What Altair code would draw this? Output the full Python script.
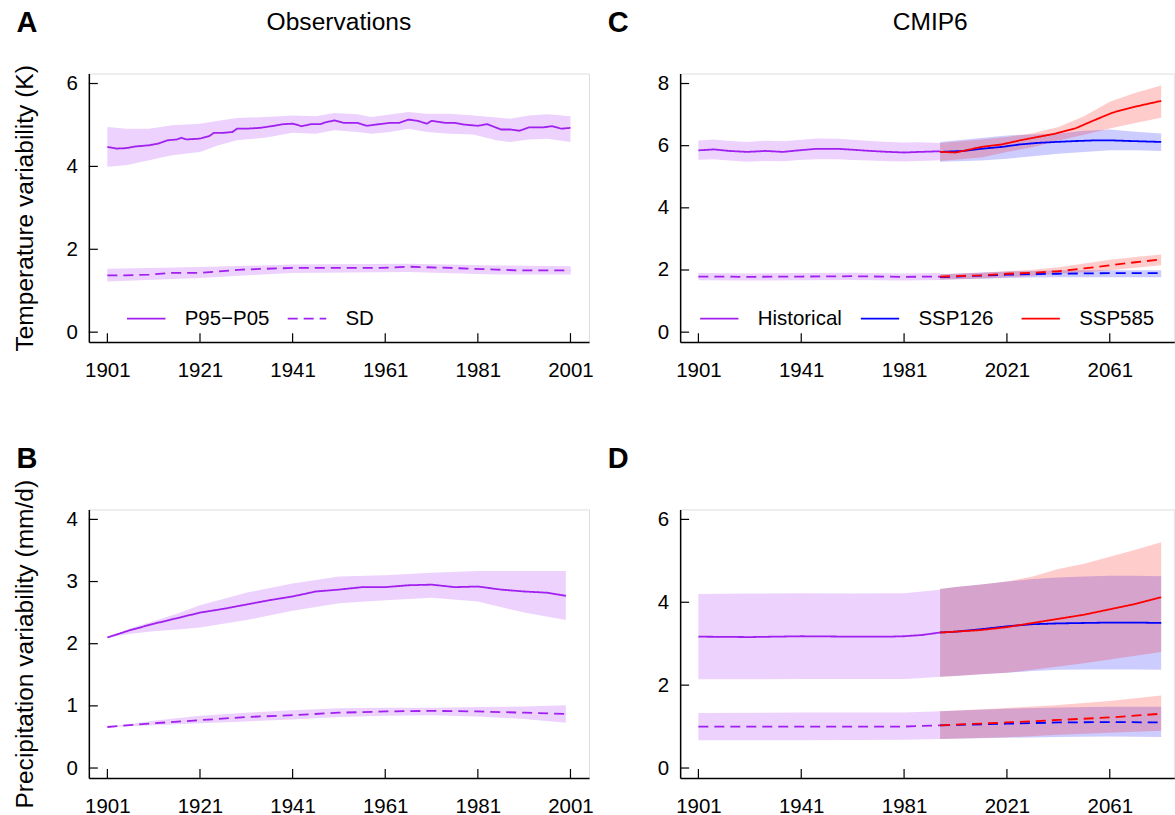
import altair as alt
import pandas as pd

PURPLE = "#A020F0"
BLUE = "#0000FF"
RED = "#FF0000"
FONT = "Liberation Sans"
P_LABEL = "P95\u2212P05"
SD_LABEL = "SD"

# ---------------- Panel A: observed temperature variability (K)
a_p_years = [1901, 1903, 1905, 1907, 1910, 1912, 1914, 1916, 1917, 1918, 1921, 1923, 1924, 1926,
             1928, 1929, 1931, 1934, 1937, 1939, 1941, 1943, 1945, 1947, 1948, 1950, 1952, 1955,
             1957, 1959, 1962, 1964, 1966, 1968, 1970, 1971, 1974, 1976, 1978, 1981, 1983, 1986,
             1988, 1990, 1992, 1995, 1997, 1999, 2001]
a_p = [4.47, 4.43, 4.44, 4.48, 4.51, 4.55, 4.63, 4.65, 4.69, 4.65, 4.67, 4.73, 4.81, 4.81,
       4.83, 4.91, 4.91, 4.93, 4.98, 5.02, 5.03, 4.97, 5.02, 5.02, 5.06, 5.11, 5.05, 5.05,
       4.98, 5.01, 5.05, 5.05, 5.13, 5.10, 5.03, 5.10, 5.05, 5.05, 5.01, 4.98, 5.02, 4.89,
       4.89, 4.86, 4.94, 4.94, 4.97, 4.91, 4.93]
a_p_band_years = [1901, 1905, 1910, 1915, 1921, 1925, 1929, 1935, 1941, 1946, 1950, 1955,
                  1958, 1962, 1966, 1970, 1975, 1980, 1985, 1988, 1992, 1996, 2001]
a_p_hi = [4.95, 4.91, 4.91, 4.99, 5.03, 5.10, 5.17, 5.19, 5.23, 5.21, 5.29, 5.26,
          5.19, 5.25, 5.31, 5.27, 5.27, 5.23, 5.18, 5.15, 5.23, 5.26, 5.21]
a_p_lo = [3.99, 4.03, 4.15, 4.27, 4.35, 4.51, 4.63, 4.69, 4.81, 4.79, 4.87, 4.83,
          4.79, 4.83, 4.91, 4.83, 4.79, 4.77, 4.63, 4.59, 4.65, 4.67, 4.59]
a_sd_years = [1901, 1905, 1910, 1915, 1921, 1930, 1941, 1950, 1960, 1966, 1975, 1985, 1990, 2001]
a_sd = [1.37, 1.37, 1.39, 1.43, 1.43, 1.51, 1.55, 1.55, 1.55, 1.58, 1.55, 1.51, 1.49, 1.49]
a_sd_band_years = [1901, 1921, 1941, 1966, 1985, 2001]
a_sd_hi = [1.53, 1.57, 1.63, 1.65, 1.61, 1.59]
a_sd_lo = [1.22, 1.31, 1.43, 1.45, 1.39, 1.39]

# ---------------- Panel B: observed precipitation variability (mm/d)
b_p_years = [1901, 1906, 1911, 1916, 1921, 1926, 1931, 1936, 1941, 1946, 1951, 1956, 1961,
             1966, 1971, 1976, 1981, 1986, 1991, 1996, 2000]
b_p = [2.10, 2.22, 2.32, 2.41, 2.50, 2.56, 2.63, 2.70, 2.76, 2.84, 2.87, 2.91, 2.91,
       2.94, 2.95, 2.91, 2.92, 2.87, 2.84, 2.82, 2.77]
b_p_band_years = [1901, 1906, 1911, 1916, 1921, 1931, 1941, 1951, 1961, 1971, 1981, 1991, 2000]
b_p_hi = [2.10, 2.25, 2.36, 2.48, 2.62, 2.82, 2.97, 3.08, 3.10, 3.14, 3.17, 3.17, 3.17]
b_p_lo = [2.10, 2.16, 2.20, 2.23, 2.26, 2.38, 2.53, 2.65, 2.70, 2.74, 2.68, 2.50, 2.38]
b_sd_years = [1901, 1911, 1921, 1931, 1941, 1951, 1961, 1971, 1981, 1991, 2000]
b_sd = [0.66, 0.72, 0.77, 0.82, 0.85, 0.89, 0.91, 0.92, 0.91, 0.89, 0.87]
b_sd_hi = [0.66, 0.76, 0.84, 0.89, 0.93, 0.96, 0.97, 0.97, 0.98, 0.99, 1.01]
b_sd_lo = [0.66, 0.69, 0.72, 0.75, 0.78, 0.82, 0.84, 0.85, 0.83, 0.79, 0.73]

# ---------------- Panel C: CMIP6 temperature variability (K)
c_hist_years = [1901, 1907, 1913, 1920, 1927, 1934, 1940, 1947, 1955, 1961, 1968, 1975, 1981, 1987, 1995]
c_hist_p = [5.85, 5.88, 5.83, 5.80, 5.83, 5.80, 5.85, 5.90, 5.90, 5.87, 5.83, 5.80, 5.78, 5.80, 5.82]
c_hist_p_hi = [6.17, 6.20, 6.15, 6.12, 6.16, 6.14, 6.18, 6.23, 6.22, 6.19, 6.15, 6.12, 6.10, 6.11, 6.09]
c_hist_p_lo = [5.55, 5.56, 5.52, 5.48, 5.51, 5.50, 5.54, 5.56, 5.56, 5.54, 5.52, 5.50, 5.49, 5.51, 5.53]
c_585_years = [1995, 2001, 2004, 2011, 2019, 2026, 2033, 2040, 2048, 2055, 2062, 2069, 2076, 2081]
c_585_p = [5.80, 5.78, 5.83, 5.96, 6.04, 6.17, 6.28, 6.39, 6.57, 6.82, 7.06, 7.22, 7.35, 7.44]
c_126_years = [1995, 2004, 2011, 2019, 2026, 2033, 2040, 2048, 2055, 2062, 2069, 2081]
c_126_p = [5.80, 5.83, 5.90, 5.96, 6.04, 6.09, 6.12, 6.15, 6.17, 6.17, 6.15, 6.12]
ssp_band_years = [1995, 2011, 2021, 2031, 2041, 2051, 2061, 2071, 2081]
c_585_p_hi = [6.09, 6.20, 6.28, 6.40, 6.60, 6.95, 7.41, 7.70, 7.94]
c_585_p_lo = [5.51, 5.62, 5.80, 5.95, 6.17, 6.35, 6.55, 6.73, 6.90]
c_126_p_hi = [6.12, 6.25, 6.33, 6.36, 6.39, 6.48, 6.52, 6.45, 6.39]
c_126_p_lo = [5.48, 5.52, 5.58, 5.66, 5.74, 5.80, 5.85, 5.85, 5.83]
c_hist_sd_years = [1901, 1921, 1941, 1961, 1981, 1995]
c_hist_sd = [1.79, 1.78, 1.79, 1.80, 1.78, 1.79]
c_hist_sd_hi = [1.90, 1.89, 1.90, 1.91, 1.89, 1.90]
c_hist_sd_lo = [1.67, 1.66, 1.67, 1.68, 1.66, 1.68]
c_585_sd = [1.79, 1.83, 1.88, 1.91, 1.96, 2.05, 2.15, 2.25, 2.34]
c_585_sd_hi = [1.86, 1.91, 1.96, 2.01, 2.09, 2.21, 2.33, 2.42, 2.50]
c_585_sd_lo = [1.69, 1.73, 1.77, 1.81, 1.88, 1.93, 1.99, 2.07, 2.15]
c_126_sd = [1.77, 1.82, 1.85, 1.87, 1.88, 1.89, 1.90, 1.90, 1.90]
c_126_sd_hi = [1.86, 1.92, 1.95, 1.97, 1.99, 1.99, 1.99, 1.99, 1.99]
c_126_sd_lo = [1.69, 1.72, 1.74, 1.76, 1.77, 1.77, 1.77, 1.77, 1.77]

# ---------------- Panel D: CMIP6 precipitation variability (mm/d)
d_hist_years = [1901, 1921, 1941, 1961, 1975, 1981, 1988, 1995]
d_hist_p = [3.17, 3.16, 3.18, 3.17, 3.17, 3.18, 3.21, 3.27]
d_hist_p_hi = [4.20, 4.21, 4.22, 4.21, 4.22, 4.22, 4.26, 4.30]
d_hist_p_lo = [2.14, 2.14, 2.15, 2.15, 2.15, 2.15, 2.17, 2.20]
d_ssp_years = [1995, 2001, 2011, 2021, 2031, 2041, 2051, 2061, 2071, 2081]
d_585_p = [3.27, 3.29, 3.33, 3.40, 3.50, 3.60, 3.70, 3.83, 3.96, 4.12]
d_585_p_hi = [4.32, 4.37, 4.43, 4.50, 4.62, 4.80, 4.93, 5.10, 5.27, 5.45]
d_585_p_lo = [2.20, 2.22, 2.26, 2.30, 2.37, 2.45, 2.53, 2.62, 2.71, 2.80]
d_126_p = [3.27, 3.29, 3.35, 3.42, 3.47, 3.49, 3.50, 3.51, 3.51, 3.50]
d_126_p_hi = [4.32, 4.37, 4.43, 4.50, 4.56, 4.60, 4.62, 4.64, 4.64, 4.63]
d_126_p_lo = [2.20, 2.22, 2.26, 2.30, 2.34, 2.37, 2.38, 2.38, 2.38, 2.37]
d_hist_sd_years = [1901, 1941, 1981, 1995]
d_hist_sd = [1.00, 1.00, 1.00, 1.03]
d_hist_sd_hi = [1.33, 1.34, 1.34, 1.37]
d_hist_sd_lo = [0.67, 0.67, 0.68, 0.70]
d_ssp_sd_years = [1995, 2021, 2041, 2061, 2081]
d_585_sd = [1.03, 1.10, 1.16, 1.22, 1.31]
d_585_sd_hi = [1.37, 1.45, 1.52, 1.62, 1.75]
d_585_sd_lo = [0.70, 0.74, 0.80, 0.85, 0.90]
d_126_sd = [1.03, 1.07, 1.10, 1.11, 1.10]
d_126_sd_hi = [1.37, 1.43, 1.46, 1.48, 1.48]
d_126_sd_lo = [0.70, 0.73, 0.75, 0.76, 0.75]

# ---------------- axes
obs_xticks = [1901, 1921, 1941, 1961, 1981, 2001]
cmip_xticks = [1901, 1941, 1981, 2021, 2061]
scenarios = ["Historical", "SSP126", "SSP585"]
scen_colors = [PURPLE, BLUE, RED]


def line_df(years, vals, scen, metric):
    return pd.DataFrame({"year": years, "value": vals, "scenario": scen, "metric": metric})


def band_df(years, lo, hi, scen, metric):
    return pd.DataFrame({"year": years, "lo": lo, "hi": hi, "scenario": scen, "metric": metric})


def panel(lines, bands, xdom, xticks, ydom, yticks, width, height,
          ytitle, letter, header, legend):
    xs = alt.Scale(domain=xdom, nice=False, zero=False)
    ys = alt.Scale(domain=ydom, nice=False, zero=False)
    xaxis = alt.Axis(values=xticks, format="d", ticks=False, tickSize=0, grid=False,
                     domainColor="black", domainWidth=1.5, labelFontSize=20.5,
                     labelPadding=18.5, labelColor="black", labelFont=FONT,
                     labelFlush=False, labelOverlap=False, title="")
    ykw = dict(values=yticks, format="d", ticks=False, tickSize=0, grid=False,
               domainColor="black", domainWidth=1.5, labelFontSize=20.5,
               labelPadding=11.5, labelColor="black", labelFont=FONT,
               labelOverlap=False, labelFlush=False)
    if ytitle:
        ykw.update(title=ytitle, titleX=-63, titleY=height / 2, titleAngle=270,
                   titleBaseline="middle", titleAlign="center", titleFontSize=24.6,
                   titleFontWeight="normal", titleColor="black", titleFont=FONT)
    else:
        ykw.update(title="")
    yaxis = alt.Axis(**ykw)

    dash_scale = alt.Scale(domain=[P_LABEL, SD_LABEL], range=[[1, 0], [10, 6]])
    color_scale = alt.Scale(domain=scenarios, range=scen_colors)

    color_leg = None
    dash_leg = None
    if legend == "color":
        color_leg = alt.Legend(orient="none", legendX=18.7, legendY=225, direction="horizontal",
                               columns=3, gridAlign="all", columnPadding=14,
                               symbolType="stroke", symbolSize=1470, symbolStrokeWidth=1.8,
                               labelFontSize=20.5, labelFont=FONT, labelColor="black",
                               labelOffset=18, title=None, padding=0)
    if legend == "dash":
        dash_leg = alt.Legend(orient="none", legendX=37, legendY=225, direction="horizontal",
                              columns=2, gridAlign="all", columnPadding=14,
                              symbolType="stroke", symbolSize=1490, symbolStrokeWidth=1.8,
                              symbolStrokeColor=PURPLE,
                              labelFontSize=20.5, labelFont=FONT, labelColor="black",
                              labelOffset=18, title=None, padding=0)

    layers = []
    # shaded ranges, one layer per scenario so later scenarios sit on top
    for scen in bands["scenario"].unique():
        sub = bands[bands["scenario"] == scen]
        layers.append(
            alt.Chart(sub).mark_area(fillOpacity=0.2, strokeWidth=0).encode(
                x=alt.X("year:Q", scale=xs, axis=xaxis),
                y=alt.Y("lo:Q", scale=ys, axis=yaxis),
                y2="hi:Q",
                color=alt.Color("scenario:N", scale=color_scale, legend=color_leg),
                detail="metric:N",
            )
        )
    # central estimates
    for scen in lines["scenario"].unique():
        sub = lines[lines["scenario"] == scen]
        layers.append(
            alt.Chart(sub).mark_line(strokeWidth=1.8).encode(
                x=alt.X("year:Q", scale=xs, axis=xaxis),
                y=alt.Y("value:Q", scale=ys, axis=yaxis),
                color=alt.Color("scenario:N", scale=color_scale, legend=color_leg),
                strokeDash=alt.StrokeDash("metric:N", scale=dash_scale, legend=dash_leg),
                detail="metric:N",
            )
        )

    # inward-pointing tick marks
    layers.append(
        alt.Chart(pd.DataFrame({"tick": xticks})).mark_rule(color="black", strokeWidth=1.2).encode(
            x=alt.X("tick:Q", scale=xs, axis=xaxis),
            y=alt.value(height), y2=alt.value(height - 9),
        )
    )
    layers.append(
        alt.Chart(pd.DataFrame({"tick": yticks})).mark_rule(color="black", strokeWidth=1.2).encode(
            y=alt.Y("tick:Q", scale=ys, axis=yaxis),
            x=alt.value(0), x2=alt.value(9),
        )
    )
    # panel letter and column header
    layers.append(
        alt.Chart(pd.DataFrame({"t": [letter]})).mark_text(
            font=FONT, fontSize=29, fontWeight="bold", color="black",
            align="center", baseline="middle").encode(
            text="t:N", x=alt.value(-62), y=alt.value(-50.5))
    )
    if header:
        layers.append(
            alt.Chart(pd.DataFrame({"t": [header]})).mark_text(
                font=FONT, fontSize=24.6, color="black",
                align="center", baseline="middle").encode(
                text="t:N", x=alt.value(250.5), y=alt.value(-51))
        )
    return alt.layer(*layers).properties(width=width, height=height)


# ---------------- assemble data
A_lines = pd.concat([line_df(a_p_years, a_p, "Historical", P_LABEL),
                     line_df(a_sd_years, a_sd, "Historical", SD_LABEL)])
A_bands = pd.concat([band_df(a_p_band_years, a_p_lo, a_p_hi, "Historical", P_LABEL),
                     band_df(a_sd_band_years, a_sd_lo, a_sd_hi, "Historical", SD_LABEL)])

B_lines = pd.concat([line_df(b_p_years, b_p, "Historical", P_LABEL),
                     line_df(b_sd_years, b_sd, "Historical", SD_LABEL)])
B_bands = pd.concat([band_df(b_p_band_years, b_p_lo, b_p_hi, "Historical", P_LABEL),
                     band_df(b_sd_years, b_sd_lo, b_sd_hi, "Historical", SD_LABEL)])

C_lines = pd.concat([
    line_df(c_hist_years, c_hist_p, "Historical", P_LABEL),
    line_df(c_hist_sd_years, c_hist_sd, "Historical", SD_LABEL),
    line_df(c_126_years, c_126_p, "SSP126", P_LABEL),
    line_df(ssp_band_years, c_126_sd, "SSP126", SD_LABEL),
    line_df(c_585_years, c_585_p, "SSP585", P_LABEL),
    line_df(ssp_band_years, c_585_sd, "SSP585", SD_LABEL),
])
C_bands = pd.concat([
    band_df(c_hist_years, c_hist_p_lo, c_hist_p_hi, "Historical", P_LABEL),
    band_df(c_hist_sd_years, c_hist_sd_lo, c_hist_sd_hi, "Historical", SD_LABEL),
    band_df(ssp_band_years, c_126_p_lo, c_126_p_hi, "SSP126", P_LABEL),
    band_df(ssp_band_years, c_126_sd_lo, c_126_sd_hi, "SSP126", SD_LABEL),
    band_df(ssp_band_years, c_585_p_lo, c_585_p_hi, "SSP585", P_LABEL),
    band_df(ssp_band_years, c_585_sd_lo, c_585_sd_hi, "SSP585", SD_LABEL),
])

D_lines = pd.concat([
    line_df(d_hist_years, d_hist_p, "Historical", P_LABEL),
    line_df(d_hist_sd_years, d_hist_sd, "Historical", SD_LABEL),
    line_df(d_ssp_years, d_126_p, "SSP126", P_LABEL),
    line_df(d_ssp_sd_years, d_126_sd, "SSP126", SD_LABEL),
    line_df(d_ssp_years, d_585_p, "SSP585", P_LABEL),
    line_df(d_ssp_sd_years, d_585_sd, "SSP585", SD_LABEL),
])
D_bands = pd.concat([
    band_df(d_hist_years, d_hist_p_lo, d_hist_p_hi, "Historical", P_LABEL),
    band_df(d_hist_sd_years, d_hist_sd_lo, d_hist_sd_hi, "Historical", SD_LABEL),
    band_df(d_ssp_years, d_126_p_lo, d_126_p_hi, "SSP126", P_LABEL),
    band_df(d_ssp_sd_years, d_126_sd_lo, d_126_sd_hi, "SSP126", SD_LABEL),
    band_df(d_ssp_years, d_585_p_lo, d_585_p_hi, "SSP585", P_LABEL),
    band_df(d_ssp_sd_years, d_585_sd_lo, d_585_sd_hi, "SSP585", SD_LABEL),
])

OBS_X = [1897, 2005]
CMIP_X = [1893.9, 2086.1]
H = 269

pA = panel(A_lines, A_bands, OBS_X, obs_xticks, [-0.24, 6.24], [0, 2, 4, 6], 501, H,
           "Temperature variability (K)", "A", "Observations", "dash")
pB = panel(B_lines, B_bands, OBS_X, obs_xticks, [-0.16, 4.16], [0, 1, 2, 3, 4], 501, H,
           "Precipitation variability (mm/d)", "B", None, None)
pC = panel(C_lines, C_bands, CMIP_X, cmip_xticks, [-0.32, 8.32], [0, 2, 4, 6, 8], 495, H,
           None, "C", "CMIP6", "color")
pD = panel(D_lines, D_bands, CMIP_X, cmip_xticks, [-0.24, 6.24], [0, 2, 4, 6], 495, H,
           None, "D", None, None)

chart = alt.concat(pA, pC, pB, pD, columns=2, spacing={"row": 167.6, "column": 91.3}).properties(
    bounds="flush",
    padding={"left": 12, "top": 8, "right": 0, "bottom": 0},
).resolve_scale(
    color="independent", strokeDash="independent"
).configure_view(stroke=None).configure(background="white", font=FONT)

chart.save("out.html", embed_options={"renderer": "svg", "actions": False})
